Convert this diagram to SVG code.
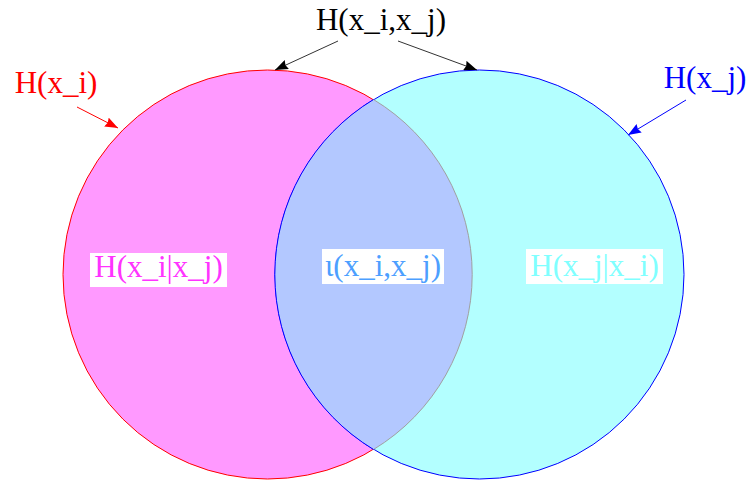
<svg xmlns="http://www.w3.org/2000/svg" width="752" height="484" viewBox="0 0 752 484">
<style>
text{font-family:"Liberation Serif","DejaVu Serif",serif;font-size:31px;text-anchor:middle}
.bg{fill:#ffffff}
</style>
<defs>
<marker id="ah-k" viewBox="0 0 13 10" refX="13" refY="5" markerWidth="13" markerHeight="10" markerUnits="userSpaceOnUse" orient="auto"><path d="M0,0 L13,5 L0,10 L1.5,5 z" fill="#000"/></marker>
<marker id="ah-r" viewBox="0 0 13 10" refX="13" refY="5" markerWidth="13" markerHeight="10" markerUnits="userSpaceOnUse" orient="auto"><path d="M0,0 L13,5 L0,10 L1.5,5 z" fill="#ff0000"/></marker>
<marker id="ah-b" viewBox="0 0 13 10" refX="13" refY="5" markerWidth="13" markerHeight="10" markerUnits="userSpaceOnUse" orient="auto"><path d="M0,0 L13,5 L0,10 L1.5,5 z" fill="#0000ff"/></marker>
</defs>
<rect width="752" height="484" fill="#ffffff"/>
<g id="set-xi">
<circle cx="267.5" cy="274.5" r="204.5" fill="#ff99ff" stroke="#ff0000" stroke-width="1"/>
</g>
<g id="set-xj">
<circle cx="479.5" cy="274.5" r="204.5" fill="#b3ffff" stroke="#0000ff" stroke-width="1"/>
</g>
<g id="overlap">
<path d="M373.5,99.5 A204.5,204.5 0 0 1 373.5,449.5 A204.5,204.5 0 0 1 373.5,99.5 Z" fill="#b3c8ff"/>
<path d="M373.5,99.5 A204.5,204.5 0 0 1 373.5,449.5" fill="none" stroke="#a0a0a0" stroke-width="1"/>
<path d="M373.5,449.5 A204.5,204.5 0 0 1 373.5,99.5" fill="none" stroke="#0000ff" stroke-width="1"/>
</g>
<g id="connectors">
<line x1="338" y1="41" x2="275" y2="70" stroke="#333333" stroke-width="1" marker-end="url(#ah-k)"/>
<line x1="398" y1="41" x2="477" y2="70" stroke="#333333" stroke-width="1" marker-end="url(#ah-k)"/>
<line x1="77" y1="107" x2="118" y2="128" stroke="#ff0000" stroke-width="1" marker-end="url(#ah-r)"/>
<line x1="686" y1="100" x2="628" y2="135" stroke="#0000ff" stroke-width="1" marker-end="url(#ah-b)"/>
</g>
<g id="label-joint">
<text x="381" y="30" fill="#000000">H(x_i,x_j)</text>
</g>
<g id="label-hxi">
<text x="56" y="93" fill="#ff0000">H(x_i)</text>
</g>
<g id="label-hxj">
<text x="705" y="88" fill="#0000ff">H(x_j)</text>
</g>
<g id="label-cond-ij">
<rect class="bg" x="90" y="253" width="137" height="34"/>
<text x="158.5" y="277" fill="#ff33ff">H(x_i|x_j)</text>
</g>
<g id="label-mutual">
<rect class="bg" x="322" y="249" width="122" height="35"/>
<text x="383" y="276" fill="#4d9fff">ι(x_i,x_j)</text>
</g>
<g id="label-cond-ji">
<rect class="bg" x="526" y="249" width="137" height="35"/>
<text x="594.5" y="276" fill="#80ffff">H(x_j|x_i)</text>
</g>
</svg>
